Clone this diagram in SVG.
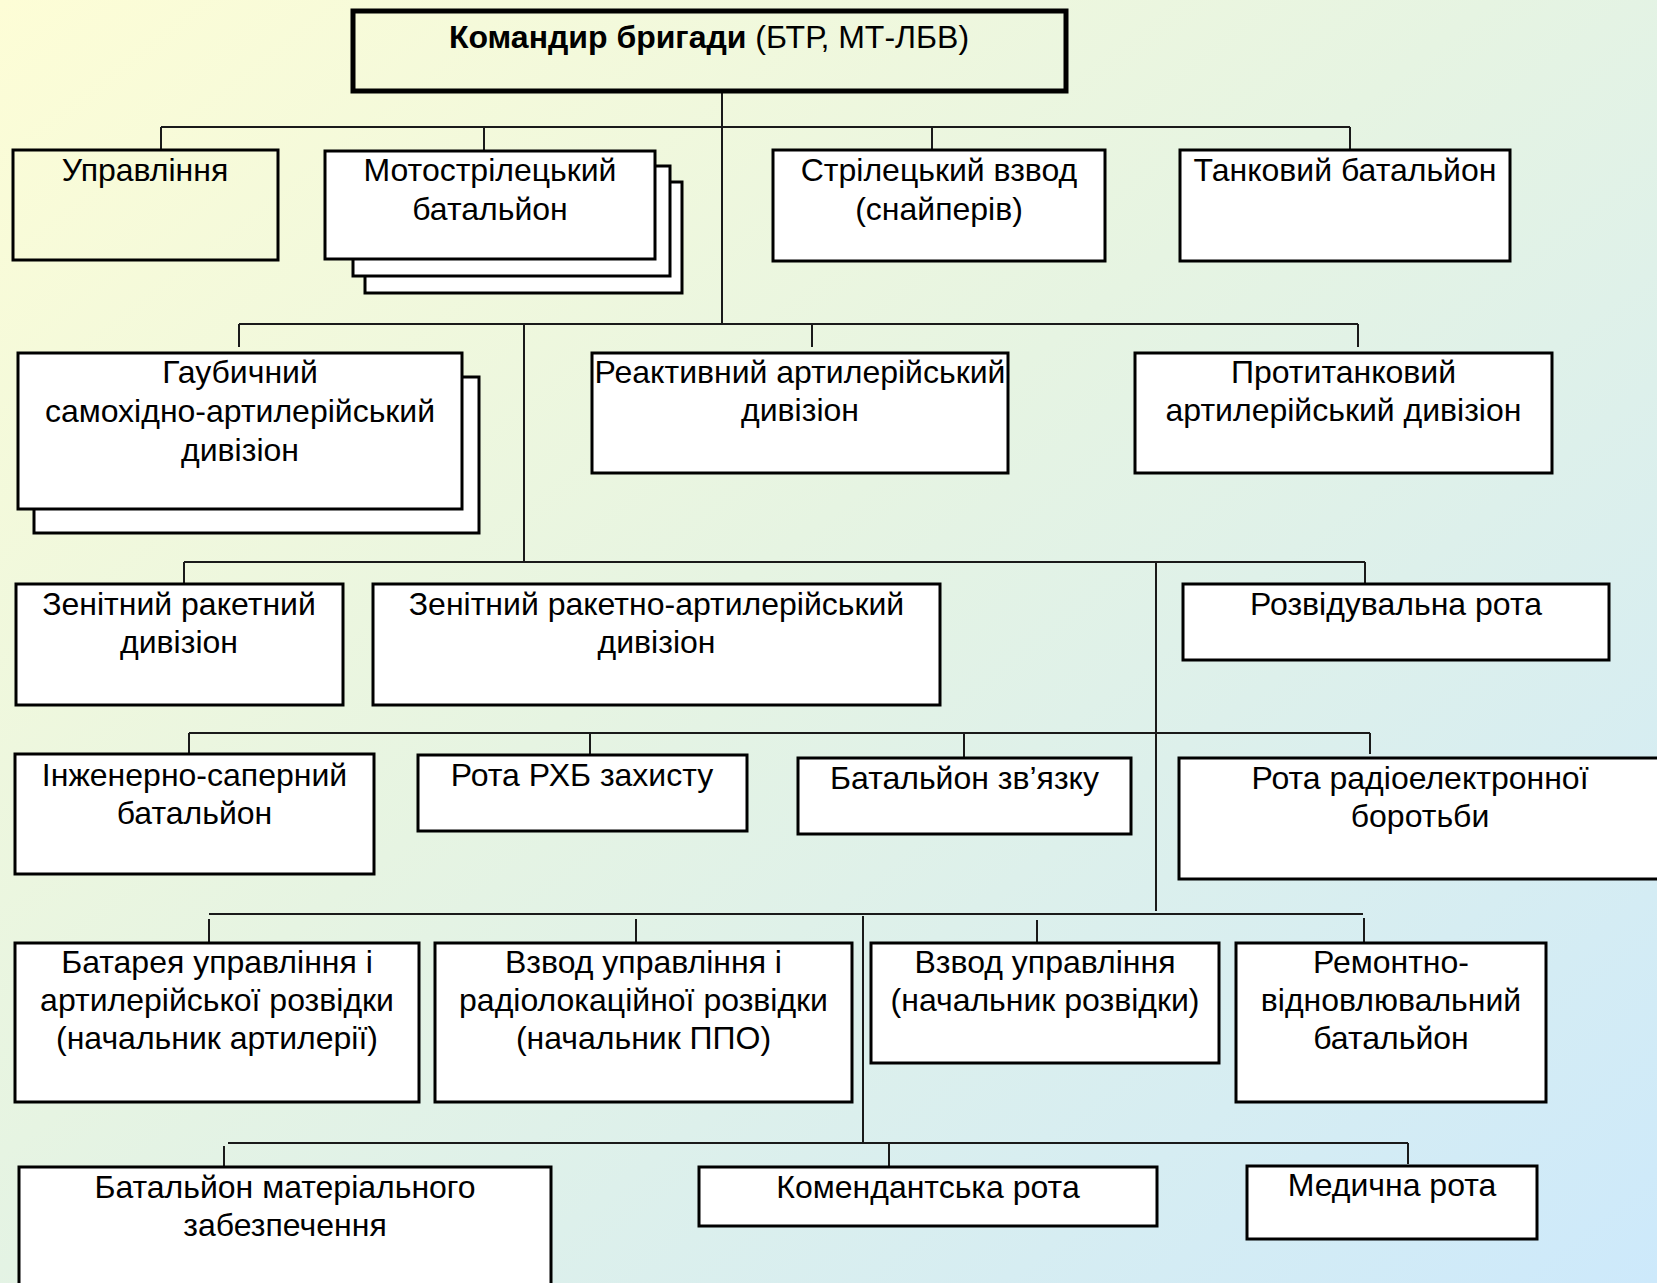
<svg xmlns="http://www.w3.org/2000/svg" width="1657" height="1283" viewBox="0 0 1657 1283">
<defs>
<linearGradient id="bg" x1="0" y1="0" x2="1" y2="1">
<stop offset="0" stop-color="#fdfdd6"/>
<stop offset="0.45" stop-color="#e6f4e2"/>
<stop offset="1" stop-color="#cde9fb"/>
</linearGradient>
<style>
.b{fill:#fff;stroke:#000;stroke-width:3}
.t{fill:none;stroke:#000;stroke-width:3}
.c line{stroke:#1a1a1a;stroke-width:2}
text{font-family:"Liberation Sans",Arial,sans-serif;font-size:32px;fill:#000;text-anchor:middle}
</style>
</defs>
<rect width="1657" height="1283" fill="url(#bg)"/>
<g id="connectors" class="c">
<line x1="722" y1="91" x2="722" y2="324"/>
<line x1="161" y1="127" x2="1350" y2="127"/>
<line x1="161" y1="127" x2="161" y2="150"/>
<line x1="484" y1="127" x2="484" y2="151"/>
<line x1="932" y1="127" x2="932" y2="150"/>
<line x1="1350" y1="127" x2="1350" y2="150"/>
<line x1="239" y1="324" x2="1358" y2="324"/>
<line x1="239" y1="324" x2="239" y2="347"/>
<line x1="812" y1="324" x2="812" y2="347"/>
<line x1="1358" y1="324" x2="1358" y2="347"/>
<line x1="524" y1="324" x2="524" y2="562"/>
<line x1="184" y1="562" x2="1365" y2="562"/>
<line x1="184" y1="562" x2="184" y2="584"/>
<line x1="1365" y1="562" x2="1365" y2="587"/>
<line x1="1156" y1="562" x2="1156" y2="911"/>
<line x1="189" y1="733" x2="1370" y2="733"/>
<line x1="189" y1="733" x2="189" y2="757"/>
<line x1="590" y1="733" x2="590" y2="755"/>
<line x1="964" y1="733" x2="964" y2="758"/>
<line x1="1370" y1="733" x2="1370" y2="754"/>
<line x1="209" y1="914" x2="1363" y2="914"/>
<line x1="209" y1="919" x2="209" y2="942"/>
<line x1="636" y1="919" x2="636" y2="942"/>
<line x1="1037" y1="920" x2="1037" y2="943"/>
<line x1="1364" y1="918" x2="1364" y2="943"/>
<line x1="863" y1="916" x2="863" y2="1143"/>
<line x1="228" y1="1143" x2="1408" y2="1143"/>
<line x1="224" y1="1146" x2="224" y2="1168"/>
<line x1="889" y1="1143" x2="889" y2="1166"/>
<line x1="1408" y1="1143" x2="1408" y2="1164"/>
</g>
<g id="commander">
<rect x="353" y="11" width="713" height="80" fill="none" stroke="#000" stroke-width="5"/>
<text x="709" y="48"><tspan font-weight="bold">Командир бригади</tspan> (БТР, МТ-ЛБВ)</text>
</g>
<g id="upravlinnia">
<rect class="t" x="13" y="150" width="265" height="110"/>
<text x="145" y="181">Управління</text>
</g>
<g id="motostril">
<rect class="b" x="365" y="182" width="317" height="111"/>
<rect class="b" x="353" y="166" width="317" height="110"/>
<rect class="b" x="325" y="151" width="330" height="108"/>
<text x="490" y="181">Мотострілецький</text>
<text x="490" y="220">батальйон</text>
</g>
<g id="strilets">
<rect class="b" x="773" y="150" width="332" height="111"/>
<text x="939" y="181">Стрілецький взвод</text>
<text x="939" y="220">(снайперів)</text>
</g>
<g id="tank">
<rect class="b" x="1180" y="150" width="330" height="111"/>
<text x="1345" y="181">Танковий батальйон</text>
</g>
<g id="gaub">
<rect class="b" x="34" y="377" width="445" height="156"/>
<rect class="b" x="18" y="353" width="444" height="156"/>
<text x="240" y="383">Гаубичний</text>
<text x="240" y="422">самохідно-артилерійський</text>
<text x="240" y="461">дивізіон</text>
</g>
<g id="reakt">
<rect class="b" x="592" y="353" width="416" height="120"/>
<text x="800" y="383">Реактивний артилерійський</text>
<text x="800" y="421">дивізіон</text>
</g>
<g id="protyt">
<rect class="b" x="1135" y="353" width="417" height="120"/>
<text x="1343.5" y="383">Протитанковий</text>
<text x="1343.5" y="421">артилерійський дивізіон</text>
</g>
<g id="zrd">
<rect class="b" x="16" y="584" width="327" height="121"/>
<text x="179" y="615">Зенітний ракетний</text>
<text x="179" y="653">дивізіон</text>
</g>
<g id="zrad">
<rect class="b" x="373" y="584" width="567" height="121"/>
<text x="656.5" y="615">Зенітний ракетно-артилерійський</text>
<text x="656.5" y="653">дивізіон</text>
</g>
<g id="rozv">
<rect class="b" x="1183" y="584" width="426" height="76"/>
<text x="1396" y="615">Розвідувальна рота</text>
</g>
<g id="inzh">
<rect class="b" x="15" y="754" width="359" height="120"/>
<text x="194.5" y="786">Інженерно-саперний</text>
<text x="194.5" y="824">батальйон</text>
</g>
<g id="rhb">
<rect class="b" x="418" y="755" width="329" height="76"/>
<text x="582" y="786">Рота РХБ захисту</text>
</g>
<g id="zviazok">
<rect class="b" x="798" y="758" width="333" height="76"/>
<text x="964.5" y="789">Батальйон зв’язку</text>
</g>
<g id="reb">
<rect class="b" x="1179" y="758" width="482" height="121"/>
<text x="1420" y="789">Рота радіоелектронної</text>
<text x="1420" y="827">боротьби</text>
</g>
<g id="batareia">
<rect class="b" x="15" y="943" width="404" height="159"/>
<text x="217" y="973">Батарея управління і</text>
<text x="217" y="1011">артилерійської розвідки</text>
<text x="217" y="1049">(начальник артилерії)</text>
</g>
<g id="vzvod-ppo">
<rect class="b" x="435" y="943" width="417" height="159"/>
<text x="643.5" y="973">Взвод управління і</text>
<text x="643.5" y="1011">радіолокаційної розвідки</text>
<text x="643.5" y="1049">(начальник ППО)</text>
</g>
<g id="vzvod-rozv">
<rect class="b" x="871" y="943" width="348" height="120"/>
<text x="1045" y="973">Взвод управління</text>
<text x="1045" y="1011">(начальник розвідки)</text>
</g>
<g id="remont">
<rect class="b" x="1236" y="943" width="310" height="159"/>
<text x="1391" y="973">Ремонтно-</text>
<text x="1391" y="1011">відновлювальний</text>
<text x="1391" y="1049">батальйон</text>
</g>
<g id="mat">
<rect class="b" x="19" y="1167" width="532" height="130"/>
<text x="285" y="1198">Батальйон матеріального</text>
<text x="285" y="1236">забезпечення</text>
</g>
<g id="komend">
<rect class="b" x="699" y="1167" width="458" height="59"/>
<text x="928" y="1198">Комендантська рота</text>
</g>
<g id="med">
<rect class="b" x="1247" y="1166" width="290" height="73"/>
<text x="1392" y="1196">Медична рота</text>
</g>
</svg>
